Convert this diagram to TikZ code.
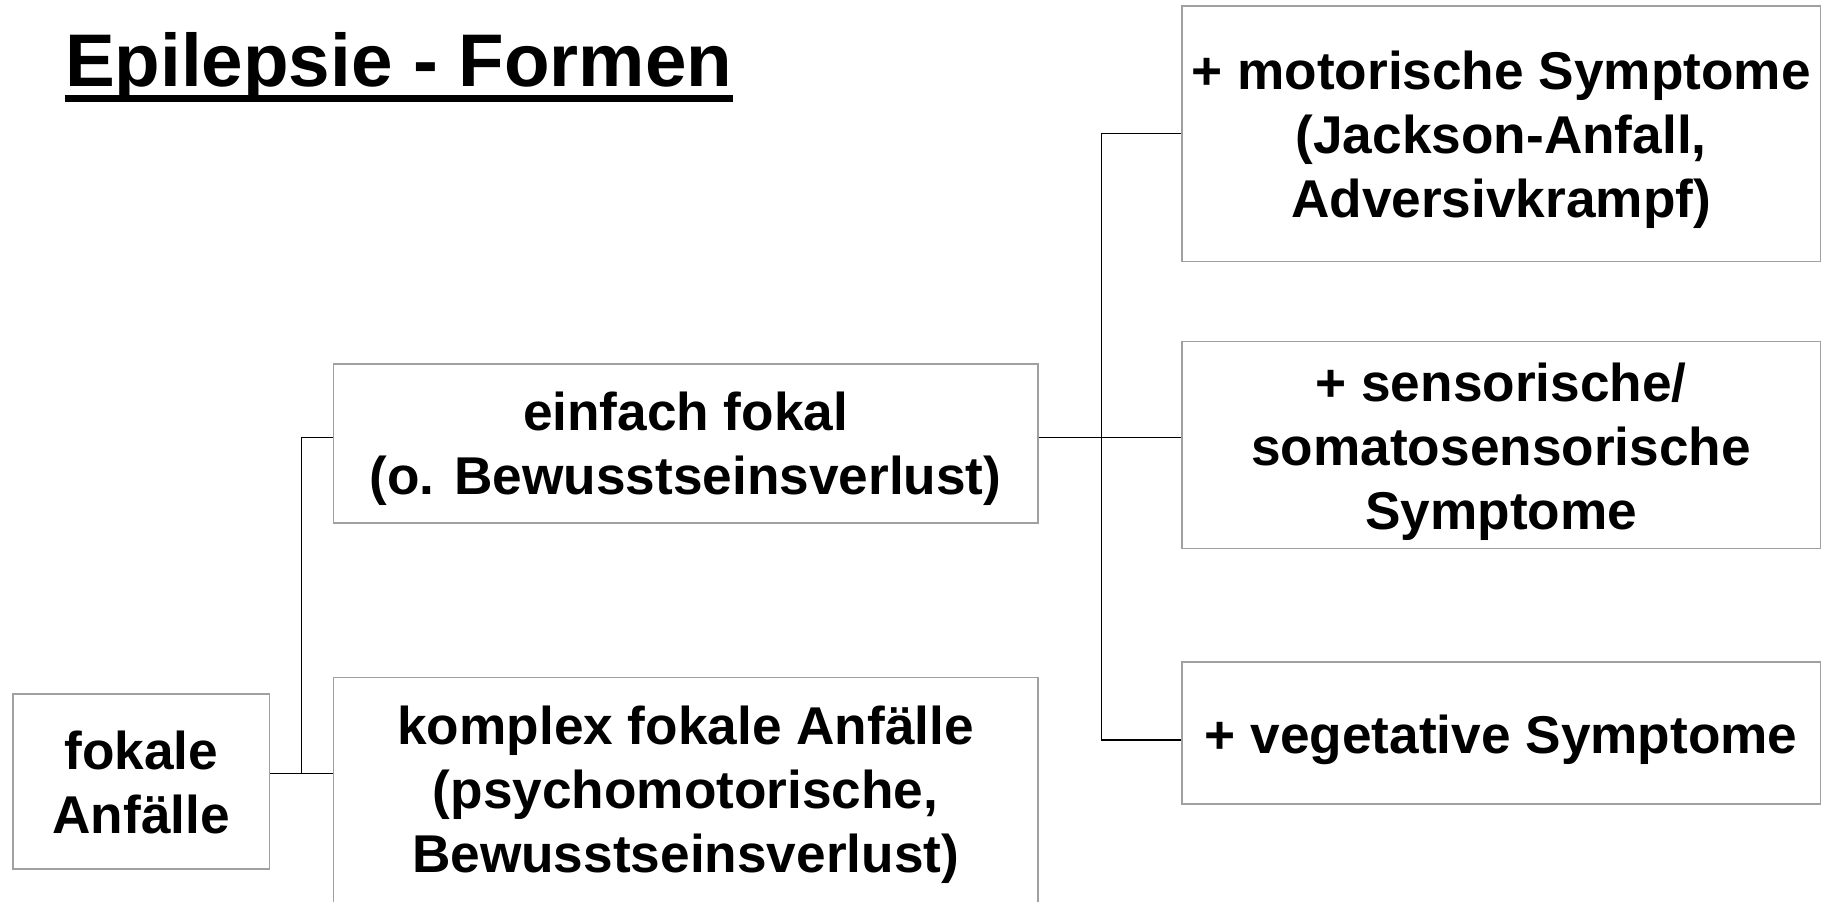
\documentclass[tikz,border=0pt]{standalone}
\usepackage{fontspec}
\setmainfont{Liberation Sans}
\usetikzlibrary{calc}
\definecolor{boxgray}{HTML}{A0A0A0}
\begin{document}
\begin{tikzpicture}[x=0.5pt,y=-0.5pt,
  box/.style={draw=boxgray, line width=0.85pt, rectangle, inner sep=0pt},
  label/.style={inner sep=0pt, align=center,
    font=\fontsize{26.6}{31.9}\selectfont\bfseries},
  link/.style={draw=black, line width=0.75pt}]
\useasboundingbox (0,0) rectangle (1822,901);
\clip (0,0) rectangle (1822,901);

% title
\node[anchor=base west, inner sep=0pt, font=\fontsize{37.3}{44}\selectfont\bfseries]
  (title) at (64.6,86.7) {Epilepsie - Formen};
\draw[line width=3.3pt] ($(title.base west)+(0,-5.8pt)$) -- ($(title.base east)+(0,-5.8pt)$);

% boxes
\node[box, minimum width=128.4pt, minimum height=87.75pt] (fokale) at (141.2,781.45) {};
\node[box, minimum width=352.1pt, minimum height=79.6pt] (einfach) at (685.6,443.3) {};
\node[box, minimum width=352.1pt, minimum height=115.3pt] (komplex) at (685.6,792.7) {};
\node[box, minimum width=319.35pt, minimum height=127.85pt] (motor) at (1501.15,133.65) {};
\node[box, minimum width=319.35pt, minimum height=103.45pt] (sensor) at (1501.15,445.05) {};
\node[box, minimum width=319.35pt, minimum height=70.9pt] (veg) at (1501.15,733.2) {};

% box texts
\node[label] (fokale-t) at ($(fokale.center)+(0,1.2)$) {fokale\\Anfälle};
\node[label] (einfach-t) at ($(einfach.center)+(0,5.4)$) {einfach fokal\\(o. Bewusstseinsverlust)};
\node[label] (komplex-t) at ($(komplex.center)+(0,2.3)$)
  {komplex fokale Anfälle\\(psychomotorische,\\Bewusstseinsverlust)};
\node[label] (motor-t) at ($(motor.center)+(0,6.3)$)
  {+ motorische Symptome\\(Jackson-Anfall,\\Adversivkrampf)};
\node[label] (sensor-t) at ($(sensor.center)+(0,6.5)$)
  {+ sensorische/\\somatosensorische\\Symptome};
\node[label] (veg-t) at ($(veg.center)+(0,6.3)$) {+ vegetative Symptome};

% junction points
\coordinate (jl) at (301.7,773.5);
\coordinate (jlt) at (301.7,437.7);
\coordinate (jr) at (1101.7,437.7);
\coordinate (jrb) at (1101.7,740.2);

% connectors
\draw[link] (fokale.east |- jl) -- (komplex.west |- jl);
\draw[link] (jl) -- (jlt) -- (einfach.west |- jlt);
\draw[link] (einfach.east |- jr) -- (sensor.west |- jr);
\draw[link] (motor.west) -- (motor.west -| jr) -- (jrb) -- (veg.west |- jrb);
\end{tikzpicture}
\end{document}
